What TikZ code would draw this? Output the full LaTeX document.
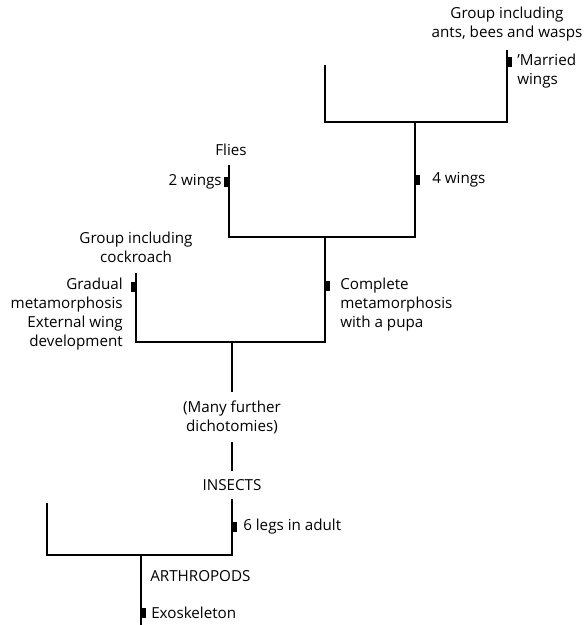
\documentclass[tikz,border=0pt]{standalone}
\usepackage{fontspec}
\setmainfont{Open Sans}
\usepackage{tikz}
\usetikzlibrary{positioning}

\begin{document}
\begin{tikzpicture}[x=0.025cm, y=-0.025cm, font=\fontsize{10.8}{13.5}\selectfont]

        \useasboundingbox (0, 0) rectangle (585, 625);
        \tikzset{
            branch/.style={draw=black, line width=1.1pt},
            notch/.style={rectangle, fill=black, inner sep=0pt, minimum width=3.6pt, minimum height=6.5pt},
            taxon/.style={align=center, inner sep=0pt, text=black},
            stage/.style={align=center, inner sep=6pt, text=black},
            trait/.style={inner sep=0pt, text=black}
        }


        \coordinate (hymL) at (325, 65);
        \coordinate (hymJ) at (415, 122);
        \coordinate (hymR) at (507, 50);
        \coordinate (flyL) at (229, 165);
        \coordinate (flyJ) at (325, 237);
        \coordinate (cockL) at (136, 273);
        \coordinate (cockJ) at (232, 342);
        \coordinate (arthJ) at (141, 555);
        \coordinate (arthL) at (47, 503);
        \coordinate (root) at (141, 625);


        \node[taxon] (hyms) at (507, 24) {Group including\\ants, bees and wasps};
        \node[taxon] (flies) at (231, 150) {Flies};
        \node[taxon] (cock) at (136, 247) {Group including\\cockroach};
        \node[stage] (many) at (232, 417) {(Many further\\dichotomies)};
        \node[stage] (insects) at (232, 485) {INSECTS};
        \node[trait, anchor=west] (arthropods) at (150, 576) {ARTHROPODS};


        \draw[branch] (hymL) |- (hymJ) -| (hymR);
        \draw[branch] (flyL) |- (flyJ) -| (hymJ);
        \draw[branch] (cockL) |- (cockJ) -| (flyJ);
        \draw[branch] (cockJ) -- (many);
        \draw[branch] (many) -- (insects);
        \draw[branch] (insects.south) |- (arthJ) -| (arthL);
        \draw[branch] (arthJ) -- (root);


        \node[notch, anchor=west] (nMarried) at (507, 62) {};
        \node[trait, align=left, anchor=west] (married) at (517, 71) {'Married\\wings};
        \node[notch, anchor=east] (nTwo) at (229, 182) {};
        \node[trait, anchor=east] (twowings) at (222, 182) {2 wings};
        \node[notch, anchor=west] (nFour) at (415, 180) {};
        \node[trait, anchor=west] (fourwings) at (432, 180) {4 wings};
        \node[notch, anchor=east] (nGradual) at (136, 287) {};
        \node[trait, align=right, anchor=east] (gradual) at (123, 314) {Gradual\\metamorphosis\\External wing\\development};
        \node[notch, anchor=west] (nComplete) at (325, 286) {};
        \node[trait, align=left, anchor=west] (complete) at (340, 305) {Complete\\metamorphosis\\with a pupa};
        \node[notch, anchor=west] (nSix) at (232, 527) {};
        \node[trait, anchor=west] (sixlegs) at (243, 527) {6 legs in adult};
        \node[notch, anchor=west] (nExo) at (141, 613) {};
        \node[trait, anchor=west] (exo) at (151, 613) {Exoskeleton};

    \end{tikzpicture}
\end{document}
